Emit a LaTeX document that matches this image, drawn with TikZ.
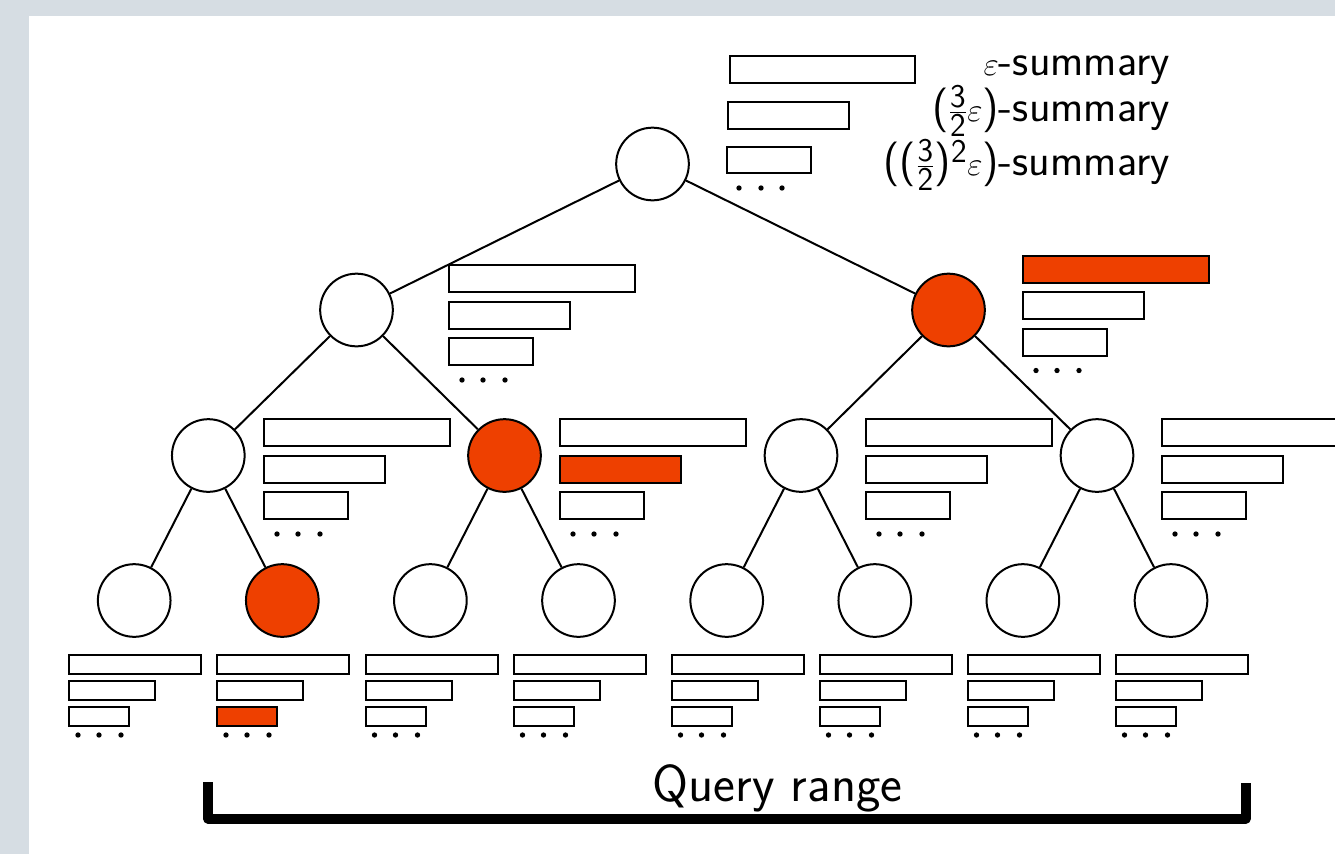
\documentclass[tikz,border=0pt]{standalone}
\usepackage{amsmath}
\definecolor{hl}{RGB}{238,64,0}
\definecolor{bgc}{RGB}{214,221,227}
\tikzset{
  tn/.style={circle,draw=black,line width=1.5pt,minimum size=54.5pt,inner sep=0pt,fill=white},
  hn/.style={tn,fill=hl},
  edge/.style={line width=1.5pt},
  sbox/.style={draw=black,line width=1.5pt},
  legend/.style={anchor=base east,inner sep=0pt,font=\sffamily\fontsize{33.5}{40}\selectfont},
  bracket/.style={line width=7.5pt,line join=round}
}
% internal-node summary group: x, top, fill1, fill2, fill3
\newcommand{\ibox}[5]{%
  \draw[sbox,fill=#3] (#1,#2) rectangle ++(186,27);
  \draw[sbox,fill=#4] (#1,#2+36.5) rectangle ++(121,27);
  \draw[sbox,fill=#5] (#1,#2+73) rectangle ++(84,27);
  \fill (#1+13,#2+115) circle[radius=2pt];
  \fill (#1+34,#2+115) circle[radius=2pt];
  \fill (#1+56,#2+115) circle[radius=2pt];
}
% leaf summary group: x, fill1, fill2, fill3
\newcommand{\lbox}[4]{%
  \draw[sbox,fill=#2] (#1,655) rectangle ++(132,19);
  \draw[sbox,fill=#3] (#1,681) rectangle ++(86,19);
  \draw[sbox,fill=#4] (#1,706.5) rectangle ++(60,19);
  \fill (#1+9,735) circle[radius=2pt];
  \fill (#1+30,735) circle[radius=2pt];
  \fill (#1+52,735) circle[radius=2pt];
}
\begin{document}
\begin{tikzpicture}[x=0.75pt,y=-0.75pt]
\useasboundingbox (0,0) rectangle (1335,854);
\clip (0,0) rectangle (1335,854);
\fill[bgc] (0,0) rectangle (1335,854);
\fill[white] (29,16) rectangle (1340,860);

% tree nodes
\node[tn] (r) at (652.5,164) {};
\node[tn] (a) at (356.5,310) {};
\node[hn] (b) at (948.5,310) {};
\node[tn] (a1) at (208.3,455.5) {};
\node[hn] (a2) at (504.5,455.5) {};
\node[tn] (b1) at (801,455.5) {};
\node[tn] (b2) at (1097,455.5) {};
\node[tn] (l1) at (134.2,600.5) {};
\node[hn] (l2) at (282.3,600.5) {};
\node[tn] (l3) at (430.4,600.5) {};
\node[tn] (l4) at (578.5,600.5) {};
\node[tn] (l5) at (726.7,600.5) {};
\node[tn] (l6) at (874.8,600.5) {};
\node[tn] (l7) at (1022.9,600.5) {};
\node[tn] (l8) at (1171,600.5) {};

% edges
\draw[edge] (r) -- (a);
\draw[edge] (r) -- (b);
\draw[edge] (a) -- (a1);
\draw[edge] (a) -- (a2);
\draw[edge] (b) -- (b1);
\draw[edge] (b) -- (b2);
\draw[edge] (a1) -- (l1);
\draw[edge] (a1) -- (l2);
\draw[edge] (a2) -- (l3);
\draw[edge] (a2) -- (l4);
\draw[edge] (b1) -- (l5);
\draw[edge] (b1) -- (l6);
\draw[edge] (b2) -- (l7);
\draw[edge] (b2) -- (l8);

% legend boxes at root
\draw[sbox,fill=white] (730,55.5) rectangle (915,83);
\draw[sbox,fill=white] (728,101.5) rectangle (849,129);
\draw[sbox,fill=white] (726.5,146.5) rectangle (811,173);
\fill (739,188) circle[radius=2pt];
\fill (761,188) circle[radius=2pt];
\fill (782,188) circle[radius=2pt];

\node[legend] (t1) at (1170,75) {$\varepsilon$-summary};
\node[legend] (t2) at (1170,121) {($\frac{\mathsf{3}}{\mathsf{2}}\varepsilon$)-summary};
\node[legend] (t3) at (1170,175) {(($\frac{\mathsf{3}}{\mathsf{2}}$)$^{\mathsf{2}}\varepsilon$)-summary};

% internal summaries
\ibox{449}{265}{white}{white}{white}
\ibox{1023}{255.5}{hl}{white}{white}
\ibox{264}{419}{white}{white}{white}
\ibox{560}{419}{white}{hl}{white}
\ibox{866}{419}{white}{white}{white}
\ibox{1162}{419}{white}{white}{white}

% leaf summaries
\lbox{69}{white}{white}{white}
\lbox{217}{white}{white}{hl}
\lbox{365.5}{white}{white}{white}
\lbox{513.5}{white}{white}{white}
\lbox{671.5}{white}{white}{white}
\lbox{819.5}{white}{white}{white}
\lbox{967.5}{white}{white}{white}
\lbox{1115.5}{white}{white}{white}

% query range
\coordinate (q1) at (208,782);
\coordinate (q2) at (208,818.5);
\coordinate (q3) at (1245.5,818.5);
\coordinate (q4) at (1245.5,783);
\draw[bracket] (q1) -- (q2) -- (q3) -- (q4);
\node[anchor=base,inner sep=0pt,font=\sffamily\fontsize{39}{44}\selectfont] (qr) at (777.5,801) {Query range};
\end{tikzpicture}
\end{document}
